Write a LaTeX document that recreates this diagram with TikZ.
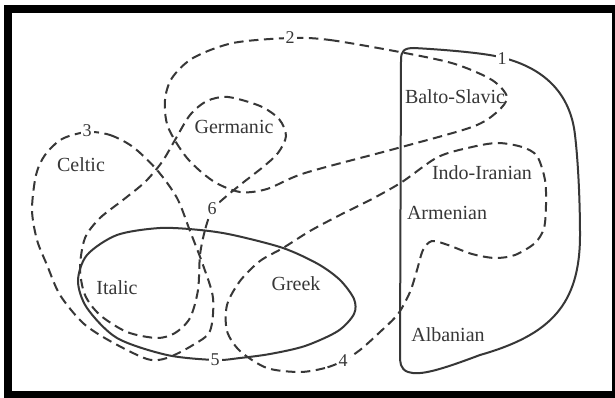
\documentclass[tikz,border=0pt]{standalone}
\usepackage{fontspec}
\setmainfont{Liberation Serif}
\definecolor{lc}{RGB}{55,55,55}
\begin{document}
\begin{tikzpicture}[x=1pt,y=-1pt,
  ln/.style={line width=2pt, draw=lc},
  dsh/.style={ln, dash pattern=on 9.5pt off 5.5pt},
  lbl/.style={text=lc, font=\fontsize{20}{22}\selectfont, inner sep=0pt},
  num/.style={text=lc, font=\fontsize{18}{20}\selectfont, fill=white, inner sep=2pt}]
\useasboundingbox (0,0) rectangle (615,398);
\fill[white] (0,0) rectangle (615,398);
\clip (0,0) rectangle (615,398);
\draw[line width=8pt] (8,9) rectangle (616,395);

% isogloss 1 (solid, right)
\draw[ln] (400,355) -- (401,60) .. controls (401,51) and (404,48) .. (414,48)
  .. controls (450,50) and (480,53) .. (495,56)
  .. controls (540,65) and (570,90) .. (575,135)
  .. controls (578,160) and (580,200) .. (580,235)
  .. controls (580,305) and (550,335) .. (480,355)
  .. controls (440,370) and (420,376) .. (408,372)
  .. controls (400,369) and (400,362) .. (400,355) -- cycle;

% isogloss 2 (dashed)
\draw[dsh] plot[smooth cycle] coordinates {(290,38) (330,40) (405,53) (455,64) (492,80) (507,97)
  (497,112) (472,127) (398,148) (305,173) (267,189) (240,192) (213,181) (187,158) (168,127)
  (165,100) (172,78) (193,58) (233,43)};

% isogloss 6 (dashed: Germanic + Italic)
\draw[dsh] plot[smooth cycle] coordinates {(212,210) (205,230) (200,255) (198,290) (190,318)
  (175,333) (157,338) (127,332) (100,315) (85,295) (80,268) (85,238) (100,218) (123,200)
  (145,182) (162,162) (175,140) (190,115) (207,101) (228,97) (260,106) (279,119) (286,136)
  (278,153) (263,167) (240,185) (222,200)};

% isogloss 3 (dashed: Celtic)
\draw[dsh] plot[smooth cycle] coordinates {(87,132) (110,135) (133,147) (157,170) (177,198)
  (190,231) (203,265) (213,298) (210,331) (193,345) (167,358) (147,359) (110,341) (83,323)
  (60,295) (47,265) (37,240) (32,210) (36,175) (45,155) (62,139)};

% isogloss 5 (solid: Italic + Greek)
\draw[ln] plot[smooth cycle] coordinates {(215,360) (240,358) (270,354) (305,346) (338,331)
  (354,314) (354,299) (340,280) (318,264) (283,248) (233,235) (200,230) (160,228) (117,235)
  (87,255) (78,281) (87,308) (117,338) (167,355)};

% isogloss 4 (dashed)
\draw[dsh] plot[smooth cycle] coordinates {(343,361) (325,368) (300,372) (267,368) (240,351)
  (227,331) (227,305) (240,281) (260,261) (283,248) (310,231) (340,215) (372,199) (402,182)
  (438,157) (472,147) (498,143) (522,147) (537,156) (545,180) (546,205) (544,228) (535,243)
  (515,255) (495,258) (472,254) (448,245) (432,241) (423,250) (417,270) (410,292) (398,314)
  (380,332) (360,350)};

% language labels
\node[lbl] (germanic) at (234,127) {Germanic};
\node[lbl] (celtic) at (81,165) {Celtic};
\node[lbl] (balto) at (455,97) {Balto-Slavic};
\node[lbl] (indoir) at (482,173) {Indo-Iranian};
\node[lbl] (armenian) at (447,213) {Armenian};
\node[lbl] (albanian) at (448,335) {Albanian};
\node[lbl] (italic) at (117,288) {Italic};
\node[lbl] (greek) at (296,284) {Greek};

% isogloss numbers
\node[num] (n1) at (502,59) {1};
\node[num] (n2) at (290,38) {2};
\node[num] (n3) at (87,131) {3};
\node[num] (n4) at (343,361) {4};
\node[num] (n5) at (215,360) {5};
\node[num] (n6) at (212,209) {6};
\end{tikzpicture}
\end{document}
